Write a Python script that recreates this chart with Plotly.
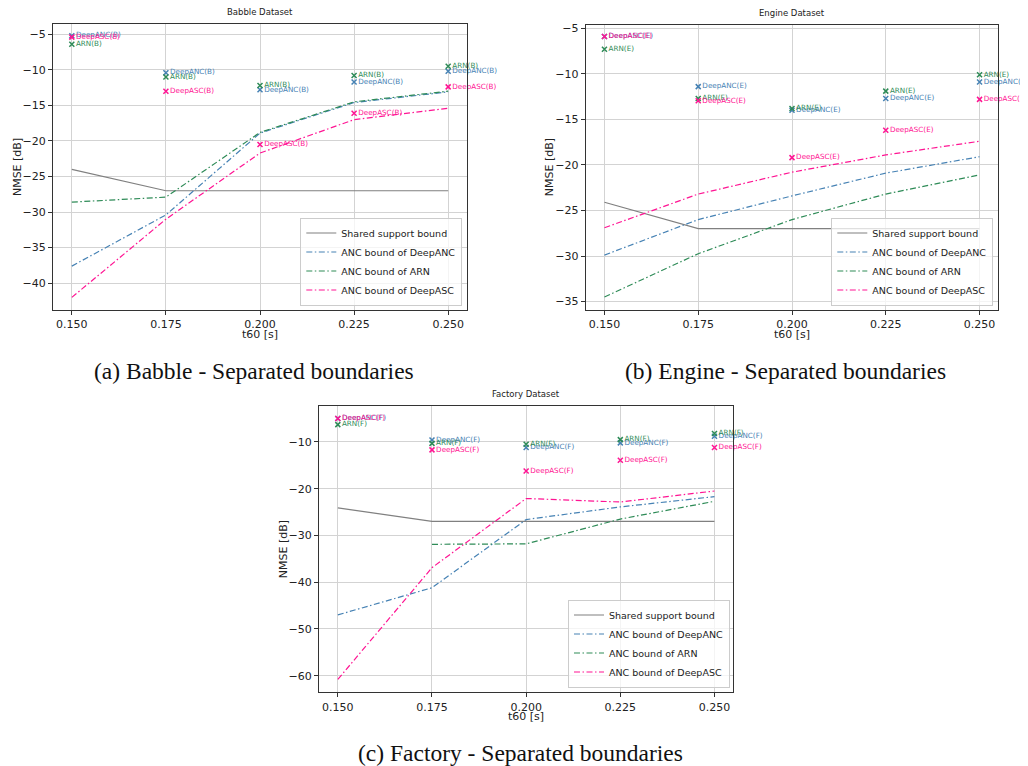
import plotly.graph_objects as go

t60 = [0.150, 0.175, 0.200, 0.225, 0.250]
t60_ticks = [0.150, 0.175, 0.200, 0.225, 0.250]

# Babble
shared_b = [-24.0, -27.0, -27.0, -27.0, -27.0]
deepanc_bound_b = [-37.6, -30.4, -18.9, -14.6, -13.1]
arn_bound_b = [-28.6, -27.9, -18.8, -14.5, -13.0]
deepasc_bound_b = [-42.0, -31.0, -21.7, -17.0, -15.4]
deepanc_b = [-5.2, -10.4, -12.8, -11.7, -10.2]
arn_b = [-6.4, -11.0, -12.2, -10.8, -9.5]
deepasc_b = [-5.4, -13.0, -20.5, -16.1, -12.4]

# Engine
shared_e = [-24.1, -27.0, -27.0, -27.0, -27.0]
deepanc_bound_e = [-29.9, -26.0, -23.4, -20.9, -19.1]
arn_bound_e = [-34.5, -29.75, -26.0, -23.2, -21.1]
deepasc_bound_e = [-26.9, -23.2, -20.8, -18.9, -17.4]
deepanc_e = [-5.9, -11.4, -14.0, -12.7, -10.9]
arn_e = [-7.3, -12.7, -13.8, -11.9, -10.1]
deepasc_e = [-5.9, -12.95, -19.2, -16.2, -12.8]

# Factory
shared_f = [-24.1, -27.0, -27.0, -27.0, -27.0]
deepanc_bound_f = [-47.0, -41.2, -26.6, -23.9, -21.7]
arn_bound_f = [None, -31.9, -31.8, -26.5, -22.7]
deepasc_bound_f = [-60.8, -36.9, -22.1, -22.85, -20.5]
deepanc_f = [-5.0, -9.6, -11.2, -10.2, -8.8]
arn_f = [-6.3, -10.3, -10.5, -9.5, -8.2]
deepasc_f = [-5.0, -11.7, -16.2, -13.9, -11.2]

C_SHARED = "#808080"
C_ANC = "#4682B4"
C_ARN = "#2E8B57"
C_ASC = "#FF1493"
DASHDOT = "6px,2.5px,1.5px,2.5px"
FONT = "DejaVu Sans"

# page body has an 8px margin; work in screenshot pixels and convert
OFF = 8
W, H = 1020, 758


def px(x):
    return (x - OFF) / W


def py(y):
    return 1 - (y - OFF) / H


panels = [
    dict(tag="B", title="Babble Dataset", shared=shared_b, ancb=deepanc_bound_b, arnb=arn_bound_b,
         ascb=deepasc_bound_b, anc=deepanc_b, arn=arn_b, asc=deepasc_b,
         xd=[px(53), px(467)], yd=[py(309), py(22)], yr=[-43.8, -3.55],
         yt=[-5, -10, -15, -20, -25, -30, -35, -40],
         leg=(px(462.3), py(304.3)), cap="(a) Babble - Separated boundaries", capxy=(254, 370)),
    dict(tag="E", title="Engine Dataset", shared=shared_e, ancb=deepanc_bound_e, arnb=arn_bound_e,
         ascb=deepasc_bound_e, anc=deepanc_e, arn=arn_e, asc=deepasc_e,
         xd=[px(585.7), px(998.3)], yd=[py(309), py(22.7)], yr=[-35.95, -4.6],
         yt=[-5, -10, -15, -20, -25, -30, -35],
         leg=(px(993.3), py(304.3)), cap="(b) Engine - Separated boundaries", capxy=(785, 370)),
    dict(tag="F", title="Factory Dataset", shared=shared_f, ancb=deepanc_bound_f, arnb=arn_bound_f,
         ascb=deepasc_bound_f, anc=deepanc_f, arn=arn_f, asc=deepasc_f,
         xd=[px(319), px(733.3)], yd=[py(692.3), py(405)], yr=[-63.6, -2.3],
         yt=[-10, -20, -30, -40, -50, -60],
         leg=(px(730), py(687.3)), cap="(c) Factory - Separated boundaries", capxy=(520, 753)),
]

fig = go.Figure()
layout = dict(
    width=W, height=H, margin=dict(l=0, r=0, t=0, b=0),
    paper_bgcolor="white", plot_bgcolor="white",
    font=dict(family=FONT, size=11, color="#222222"),
    annotations=[],
)

for i, p in enumerate(panels):
    n = "" if i == 0 else str(i + 1)
    xa, ya = "x" + n, "y" + n
    lg = "legend" + n
    tag = p["tag"]
    fig.add_trace(go.Scatter(x=t60, y=p["shared"], mode="lines", name="Shared support bound",
                             line=dict(color=C_SHARED, width=1.2), xaxis=xa, yaxis=ya, legend=lg))
    fig.add_trace(go.Scatter(x=t60, y=p["ancb"], mode="lines", name="ANC bound of DeepANC",
                             line=dict(color=C_ANC, width=1.2, dash=DASHDOT), xaxis=xa, yaxis=ya, legend=lg))
    fig.add_trace(go.Scatter(x=t60, y=p["arnb"], mode="lines", name="ANC bound of ARN",
                             line=dict(color=C_ARN, width=1.2, dash=DASHDOT), xaxis=xa, yaxis=ya, legend=lg))
    fig.add_trace(go.Scatter(x=t60, y=p["ascb"], mode="lines", name="ANC bound of DeepASC",
                             line=dict(color=C_ASC, width=1.2, dash=DASHDOT), xaxis=xa, yaxis=ya, legend=lg))
    for vals, col, nm in [(p["anc"], C_ANC, "DeepANC"), (p["arn"], C_ARN, "ARN"), (p["asc"], C_ASC, "DeepASC")]:
        fig.add_trace(go.Scatter(
            x=t60, y=vals, mode="markers+text", showlegend=False,
            text=[f"{nm}({tag})"] * len(t60), textposition="middle right",
            textfont=dict(family=FONT, size=7.2, color=col),
            marker=dict(symbol="x-thin", size=5, line=dict(color=col, width=1.5)),
            xaxis=xa, yaxis=ya, cliponaxis=False))

    axis_common = dict(showline=True, linecolor="#333333", linewidth=1, mirror=True,
                       showgrid=True, gridcolor="#d3d3d3", gridwidth=1, zeroline=False,
                       ticks="outside", ticklen=4, tickcolor="#333333",
                       tickfont=dict(family=FONT, size=11, color="#222222"))
    layout["xaxis" + n] = dict(axis_common, domain=p["xd"], range=[0.145, 0.255], anchor=ya,
                               tickvals=t60_ticks, tickformat=".3f")
    layout["yaxis" + n] = dict(axis_common, domain=p["yd"], range=p["yr"], anchor=xa,
                               tickvals=p["yt"])
    layout[lg] = dict(x=p["leg"][0], y=p["leg"][1], xanchor="right", yanchor="bottom",
                      bgcolor="rgba(255,255,255,0.75)", bordercolor="#cccccc", borderwidth=1,
                      font=dict(family=FONT, size=9.5, color="#222222"),
                      itemwidth=30, tracegroupgap=0)

    x0, x1 = p["xd"]
    y0, y1 = p["yd"]
    xc = (x0 + x1) / 2
    layout["annotations"].append(dict(text=p["title"], x=xc, y=y1, xref="paper", yref="paper",
                                      xanchor="center", yanchor="bottom", yshift=5, showarrow=False,
                                      font=dict(family=FONT, size=8.5, color="#222222")))
    layout["annotations"].append(dict(text="t60 [s]", x=xc, y=y0, xref="paper", yref="paper",
                                      xanchor="center", yanchor="top", yshift=-16, showarrow=False,
                                      font=dict(family=FONT, size=11, color="#222222")))
    layout["annotations"].append(dict(text="NMSE [dB]", x=x0, y=(y0 + y1) / 2, xref="paper", yref="paper",
                                      xanchor="center", yanchor="middle", xshift=-36, textangle=-90,
                                      showarrow=False, font=dict(family=FONT, size=11, color="#222222")))
    layout["annotations"].append(dict(text=p["cap"], x=px(p["capxy"][0]), y=py(p["capxy"][1]),
                                      xref="paper", yref="paper", xanchor="center", yanchor="middle",
                                      showarrow=False,
                                      font=dict(family="Liberation Serif", size=23.5, color="#111111")))

fig.update_layout(**layout)
fig.write_html("out.html")
